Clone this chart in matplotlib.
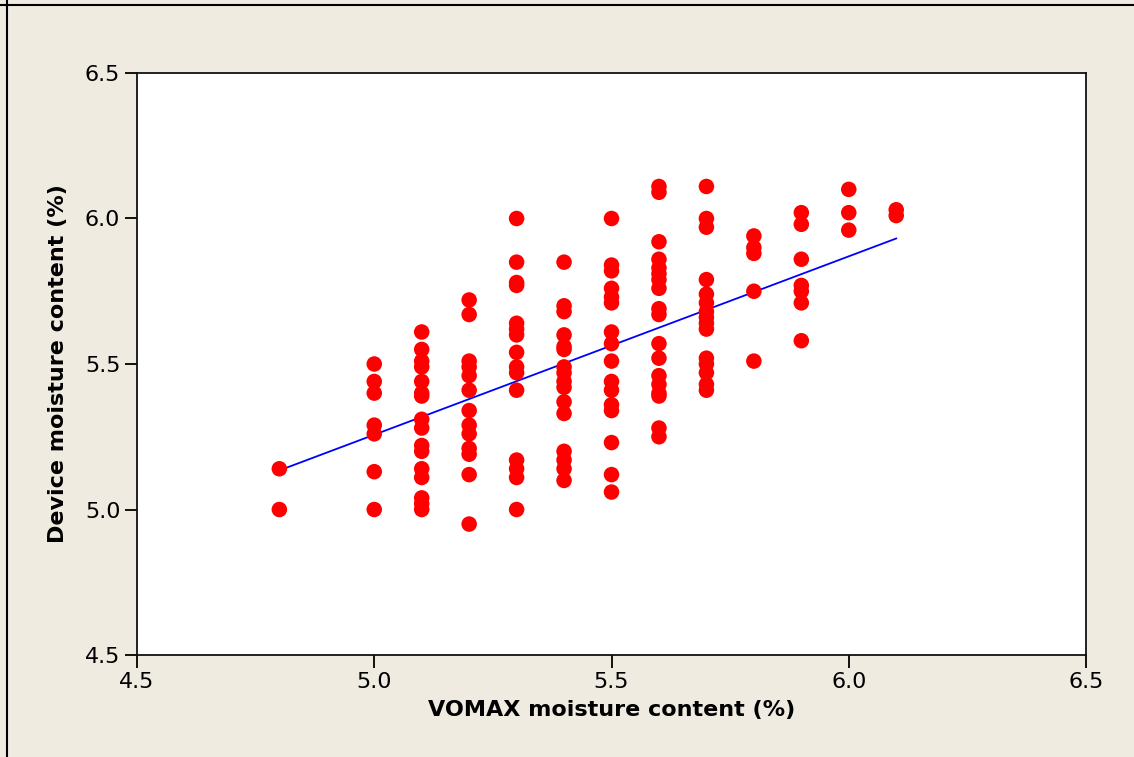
import numpy as np
import matplotlib.pyplot as plt
from matplotlib.lines import Line2D

# VOMAX readings (x) and device readings (y), grouped by VOMAX value
vomax_levels = [4.8, 5.0, 5.1, 5.2, 5.3, 5.4, 5.5, 5.6, 5.7, 5.8, 5.9, 6.0, 6.1]
device_4_8 = [5.14, 5.00]
device_5_0 = [5.50, 5.44, 5.40, 5.29, 5.26, 5.13, 5.00]
device_5_1 = [5.61, 5.55, 5.51, 5.49, 5.44, 5.40, 5.39, 5.31, 5.28, 5.22, 5.20,
              5.14, 5.11, 5.04, 5.02, 5.00]
device_5_2 = [5.72, 5.67, 5.51, 5.49, 5.46, 5.41, 5.34, 5.29, 5.26, 5.21, 5.19,
              5.12, 4.95]
device_5_3 = [6.00, 5.85, 5.78, 5.77, 5.64, 5.62, 5.60, 5.54, 5.49, 5.47, 5.41,
              5.17, 5.14, 5.11, 5.00]
device_5_4 = [5.85, 5.70, 5.68, 5.60, 5.56, 5.55, 5.49, 5.47, 5.44, 5.42, 5.37,
              5.33, 5.20, 5.17, 5.14, 5.10]
device_5_5 = [6.00, 5.84, 5.82, 5.76, 5.73, 5.71, 5.61, 5.57, 5.51, 5.44, 5.41,
              5.36, 5.34, 5.23, 5.12, 5.06]
device_5_6 = [6.11, 6.09, 5.92, 5.86, 5.83, 5.81, 5.79, 5.76, 5.69, 5.67, 5.57,
              5.52, 5.46, 5.43, 5.40, 5.39, 5.28, 5.25]
device_5_7 = [6.11, 6.00, 5.97, 5.79, 5.74, 5.71, 5.68, 5.66, 5.64, 5.62, 5.52,
              5.50, 5.47, 5.43, 5.41]
device_5_8 = [5.94, 5.90, 5.88, 5.75, 5.51]
device_5_9 = [6.02, 5.98, 5.86, 5.77, 5.75, 5.71, 5.58]
device_6_0 = [6.10, 6.02, 5.96]
device_6_1 = [6.03, 6.01]

groups = [device_4_8, device_5_0, device_5_1, device_5_2, device_5_3, device_5_4,
          device_5_5, device_5_6, device_5_7, device_5_8, device_5_9, device_6_0,
          device_6_1]

# regression line: device = fit_intercept + fit_slope * vomax
fit_intercept = 2.192
fit_slope = 0.613

x = np.concatenate([[v] * len(g) for v, g in zip(vomax_levels, groups)])
y = np.concatenate(groups)

bg = '#efebe1'
fig = plt.figure(figsize=(11.34, 7.57), dpi=100, facecolor=bg)
ax = fig.add_axes([0.1208, 0.1347, 0.8369, 0.7689])
ax.set_facecolor('white')

ax.scatter(x, y, s=125, c='#ff0000', edgecolors='none', zorder=3)

xl = np.array([min(vomax_levels), max(vomax_levels)])
ax.plot(xl, fit_intercept + fit_slope * xl, color='#0000ff', lw=1.3, zorder=2)

ax.set_xlim(4.5, 6.5)
ax.set_ylim(4.5, 6.5)
ax.set_xticks(np.arange(4.5, 6.51, 0.5))
ax.set_yticks(np.arange(4.5, 6.51, 0.5))
ax.xaxis.set_major_formatter(plt.FormatStrFormatter('%.1f'))
ax.yaxis.set_major_formatter(plt.FormatStrFormatter('%.1f'))
ax.tick_params(direction='out', length=9, width=1.3, labelsize=16, pad=3,
               colors='black')
for s in ax.spines.values():
    s.set_linewidth(1.3)
    s.set_color('#111111')

ax.set_xlabel('VOMAX moisture content (%)', fontsize=16, fontweight='bold',
              labelpad=6)
ax.set_ylabel('Device moisture content (%)', fontsize=16, fontweight='bold',
              labelpad=12)

# frame lines on the top and left edge of the figure
fig.add_artist(Line2D([0, 1], [1 - 5 / 757] * 2, color='black', lw=1.5,
                      transform=fig.transFigure))
fig.add_artist(Line2D([7 / 1134] * 2, [0, 1], color='black', lw=1.5,
                      transform=fig.transFigure))

fig.savefig('out.png', dpi=100, facecolor=bg)
